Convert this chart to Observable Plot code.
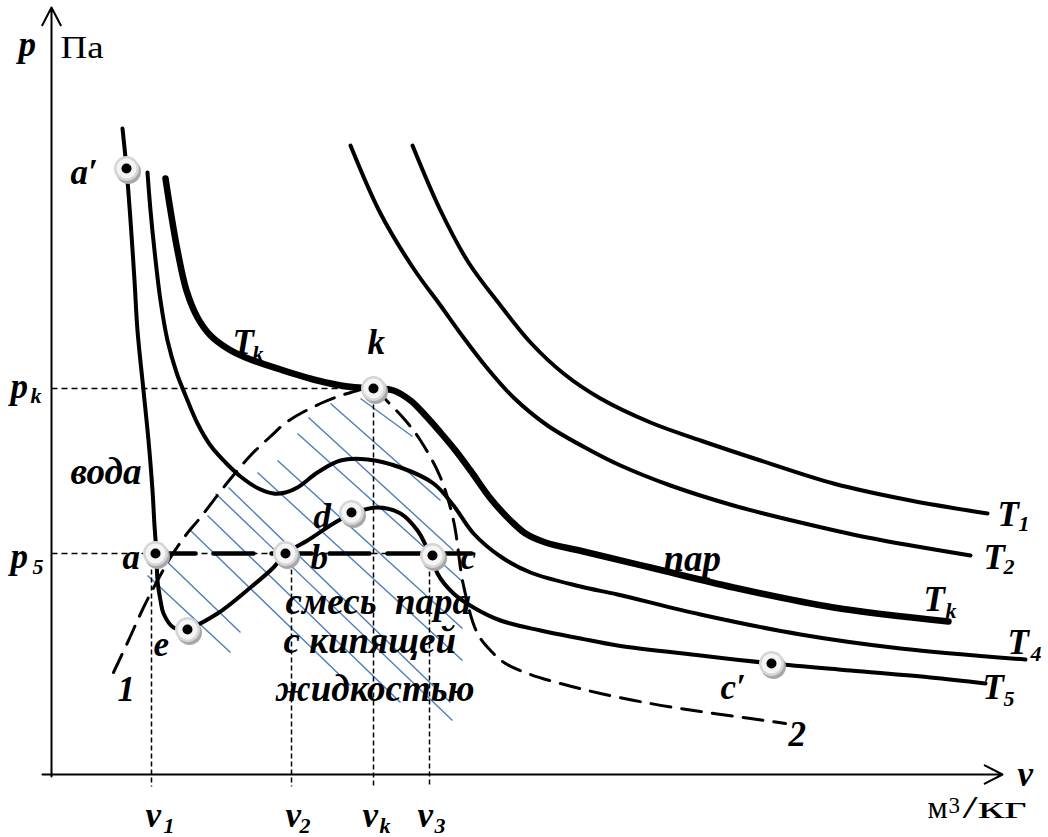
<!DOCTYPE html>
<html>
<head>
<meta charset="utf-8">
<script src="https://cdn.jsdelivr.net/npm/d3@7"></script>
<script src="https://cdn.jsdelivr.net/npm/@observablehq/plot@0.6"></script>
<style>
html, body { margin: 0; padding: 0; background: #fff; }
#chart svg { display: block; }
</style>
</head>
<body>
<div id="chart"></div>
<script>
// ---- Data (v = specific volume, p = pressure; arbitrary diagram units) ----
const isothermT1 = [[361,629],[389,564],[417,512],[449,469],[479,432],[512,401],[549,376],[599,352],[649,334],[709,314],[782,291],[859,274],[936,261]];
const isothermT2 = [[299,629],[329,561],[362,506],[389,469],[412,437],[436,406],[462,377],[496,349],[539,324],[569,309],[619,289],[682,269],[749,252],[816,237],[919,219]];
const isothermTk = [[114,596],[119,564],[126,524],[135,484],[146,457],[159,439],[176,426],[194,417],[229,405],[266,394],[296,388],[322,386],[342,384],[359,374],[374,359],[389,342],[404,324],[419,304],[439,276],[459,254],[474,241],[494,232],[532,223],[599,207],[682,187],[782,167],[897,153]];
const isothermT4 = [[96,602],[99,564],[103,524],[109,474],[116,434],[125,402],[134,379],[146,351],[159,329],[174,312],[189,298],[207,286],[222,281],[234,282],[246,287],[266,302],[289,314],[316,315],[349,307],[382,291],[402,269],[422,241],[449,218],[479,202],[529,188],[566,180],[649,160],[749,140],[849,126],[974,115]];
const isothermT5 = [[71,646],[75,606],[79,554],[83,494],[86,444],[92,384],[97,334],[101,284],[103,249],[105,221],[106,194],[109,174],[112,161],[122,147],[136,146],[166,161],[199,187],[222,207],[234,221],[256,234],[282,251],[301,261],[326,267],[349,261],[366,244],[377,224],[381,218],[386,201],[402,181],[422,167],[449,154],[489,144],[529,136],[566,129],[649,119],[721,111],[799,104],[879,97],[934,91]];
const saturationDome = [[62,102],[77,134],[92,167],[106,194],[119,217],[134,239],[149,257],[176,292],[199,319],[219,338],[236,353],[269,371],[296,381],[322,386],[336,373],[354,354],[369,334],[389,297],[402,254],[412,189],[426,141],[441,122],[454,111],[479,100],[509,91],[549,81],[599,71],[649,63],[699,56],[734,51]];
// condensation line a–b–c at p5
const condensationLine = [[104,221],[420,221]];
// hatching of the two-phase region: [v1, p1, v2, p2]
const hatchLines = [[309,376,361,338],[279,371,389,274],[257,357,402,224],[246,341,412,192],[226,314,411,146],[206,302,411,114],[177,287,399,72],[164,281,401,54],[156,259,349,72],[139,244,299,89],[107,221,189,142],[96,199,179,122]];
// reference levels
const pLevels = [{name:"pk", p:386, vEnd:322},{name:"p5", p:221, vEnd:381}];
const vLevels = [{name:"v1", v:100, pTop:221},{name:"v2", v:240, pTop:221},{name:"vk", v:322, pTop:386},{name:"v3", v:378, pTop:219}];
// state points
const pointNames = ["a′","k","a","e","b","d","c","c′"];
const pointV = [75,322,104,136,234,300,381,720];
const pointP = [606,386,221,145,221,262,219,111];
// single-letter labels (baseline anchor)
const letterText = ["p","v","a′","k","T","a","e","1","b","d","c","c′","2","T","T","T","T","T","p","p","v","v","v","v"];
const letterV    = [-33,966,19,316,181,71,102,66,259,262,409,669,737,946,932,872,956,931,-41,-41,94,234,311,366];
const letterP    = [719,-11,591,421,421,206,119,74,206,247,206,76,29,249,206,164,121,76,377,207,-52,-52,-52,-52];
// subscripts
const subText = ["1","2","k","4","5","k","k","5","1","2","k","3"];
const subV    = [967,952,894,979,952,201,-21,-19,112,248,328,383];
const subP    = [244,201,157,114,69,414,372,201,-58,-58,-58,-58];
// region words
const wordText = ["вода","пар","смесь  пара","с кипящей","жидкостью"];
const wordV    = [19,612,234,232,224];
const wordP    = [291,204,161,122,74];
// axis units
const unitText = ["Па","м","3","/кг"];
const unitV    = [9,876,897,911];
const unitP    = [717,-43,-38,-43];

// ---- Build tables ----
const points = pointNames.map((n,i)=>({name:n, v:pointV[i], p:pointP[i]}));
const letters = letterText.map((t,i)=>({text:t, v:letterV[i], p:letterP[i]}));
const subs = subText.map((t,i)=>({text:t, v:subV[i], p:subP[i]}));
const words = wordText.map((t,i)=>({text:t, v:wordV[i], p:wordP[i]}));
const units = unitText.map((t,i)=>({text:t, v:unitV[i], p:unitP[i]}));

const serif = "Liberation Serif";
const xy = {x: d=>d[0], y: d=>d[1]};
const bi = {textAnchor: "start", lineAnchor: "bottom", fontFamily: serif, fontWeight: "bold", fontStyle: "italic", fill: "#000"};

const chart = Plot.plot({
  width: 1048,
  height: 837,
  marginLeft: 51,
  marginRight: 46,
  marginTop: 7,
  marginBottom: 63,
  x: {domain: [0, 951], axis: null},
  y: {domain: [0, 767], axis: null},
  style: {background: "#fff", overflow: "visible", fontFamily: serif},
  marks: [
    // hatching
    Plot.link(hatchLines, {x1: d=>d[0], y1: d=>d[1], x2: d=>d[2], y2: d=>d[3], stroke: "#4a7ebb", strokeWidth: 1.4}),
    // reference dashed levels
    Plot.link(pLevels, {x1: 0, x2: "vEnd", y1: "p", y2: "p", stroke: "#000", strokeWidth: 1.5, strokeDasharray: "6,4"}),
    Plot.link(vLevels, {x1: "v", x2: "v", y1: "pTop", y2: -12, stroke: "#000", strokeWidth: 1.5, strokeDasharray: "5,3"}),
    // axes
    Plot.arrow([0], {x1: 0, y1: -2, x2: 0, y2: 767, stroke: "#000", strokeWidth: 2, headLength: 15, headAngle: 55}),
    Plot.arrow([0], {x1: -9, y1: 0, x2: 951, y2: 0, stroke: "#000", strokeWidth: 2, headLength: 15, headAngle: 55}),
    // isotherms
    Plot.line(isothermT1, {...xy, stroke: "#000", strokeWidth: 4, curve: "catmull-rom"}),
    Plot.line(isothermT2, {...xy, stroke: "#000", strokeWidth: 4, curve: "catmull-rom"}),
    Plot.line(isothermT4, {...xy, stroke: "#000", strokeWidth: 4, curve: "catmull-rom"}),
    Plot.line(isothermT5, {...xy, stroke: "#000", strokeWidth: 4, curve: "catmull-rom"}),
    Plot.line(isothermTk, {...xy, stroke: "#000", strokeWidth: 6.5, curve: "catmull-rom"}),
    // saturation dome
    Plot.line(saturationDome, {...xy, stroke: "#000", strokeWidth: 3, strokeDasharray: "20,11", curve: "catmull-rom"}),
    // condensation line
    Plot.line(condensationLine, {...xy, stroke: "#000", strokeWidth: 4.5, strokeDasharray: "40,18"}),
    // state points
    Plot.dot(points, {x: "v", y: "p", r: 12.5, fill: "#a8a8a8", dx: 2, dy: 3}),
    Plot.dot(points, {x: "v", y: "p", r: 12.5, fill: "#d6d6d6"}),
    Plot.dot(points, {x: "v", y: "p", r: 10, fill: "#f5f5f5"}),
    Plot.dot(points, {x: "v", y: "p", r: 5, fill: "#000"}),
    // labels
    Plot.text(letters, {x: "v", y: "p", text: "text", ...bi, fontSize: 35}),
    Plot.text(subs, {x: "v", y: "p", text: "text", ...bi, fontSize: 22}),
    Plot.text(words, {x: "v", y: "p", text: "text", ...bi, fontSize: 37}),
    Plot.text(units, {x: "v", y: "p", text: "text", textAnchor: "start", lineAnchor: "bottom", fontFamily: serif, fill: "#000", fontSize: d => d.text === "3" ? 23 : 32})
  ]
});
// the upright unit labels are drawn slightly wider in the source drawing
const unitWidths = {"Па": 43, "/кг": 64};
d3.select(chart).selectAll("text").each(function () {
  const w = unitWidths[this.textContent];
  if (w) d3.select(this).attr("textLength", w).attr("lengthAdjust", "spacingAndGlyphs");
});
document.getElementById("chart").appendChild(chart);
</script>
</body>
</html>
